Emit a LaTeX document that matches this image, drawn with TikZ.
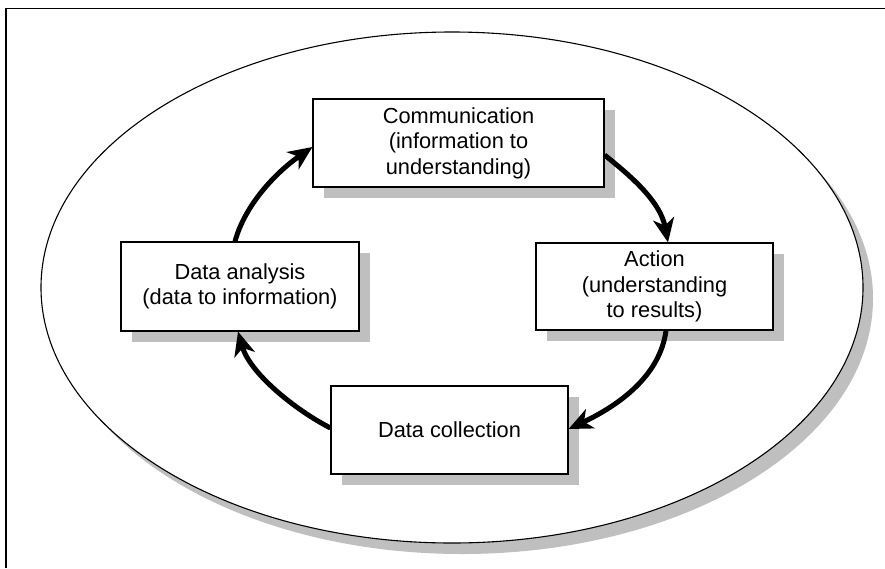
\documentclass[tikz,border=0pt]{standalone}
\usepackage{fontspec}
\setmainfont{Liberation Sans}
\usetikzlibrary{shadows,arrows.meta,calc}
\begin{document}
\begin{tikzpicture}[x=1pt,y=-1pt,
  box/.style={rectangle, draw=black, line width=1.1pt, fill=white, align=center,
    inner sep=0pt, font=\fontsize{21.8}{25.5}\selectfont,
    drop shadow={shadow xshift=11pt, shadow yshift=-11pt, fill=black!25, opacity=1}},
  arr/.style={line width=5pt, -{Stealth[length=24pt,width=21pt,inset=7pt]}},
  frameline/.style={line width=1.6pt, black}]
\fill[white] (0,0) rectangle (885,568);
\useasboundingbox (0,0) rectangle (885,568);
% outer frame
\draw[frameline] (6,568) -- (6,8.5) -- (885,8.5);
% ellipse with shadow
\draw[line width=1.1pt, fill=white,
  drop shadow={shadow xshift=10pt, shadow yshift=-11pt, fill=black!25, opacity=1}]
  (452,287.5) ellipse [x radius=411pt, y radius=255.5pt];
% boxes
\node[box, minimum width=291pt, minimum height=88pt] (comm) at (458.5,143)
  {Communication\\(information to\\understanding)};
\node[box, minimum width=237pt, minimum height=87pt] (act) at (654.5,286.5)
  {Action\\(understanding\\to results)};
\node[box, minimum width=238pt, minimum height=89pt] (ana) at (240,286.5)
  {Data analysis\\(data to information)};
\node[box, minimum width=237pt, minimum height=88pt] (col) at (449.5,430)
  {Data collection};
% arrows
\draw[arr] ($(ana.north)+(-5,0)$) .. controls +(10,-37) and +(-36,25) .. ($(comm.west)+(0,4)$);
\draw[arr] ($(comm.east)+(0,12)$) .. controls +(21,17) and +(-8,-43) .. ($(act.north)+(13.5,0)$);
\draw[arr] ($(act.south)+(11.5,0)$) .. controls +(-6,45) and +(51,-24) .. ($(col.east)+(0,-1)$);
\draw[arr] ($(col.west)+(0,-2)$) .. controls +(-35,-18) and +(12,42) .. ($(ana.south)+(-2,0)$);
\end{tikzpicture}
\end{document}
